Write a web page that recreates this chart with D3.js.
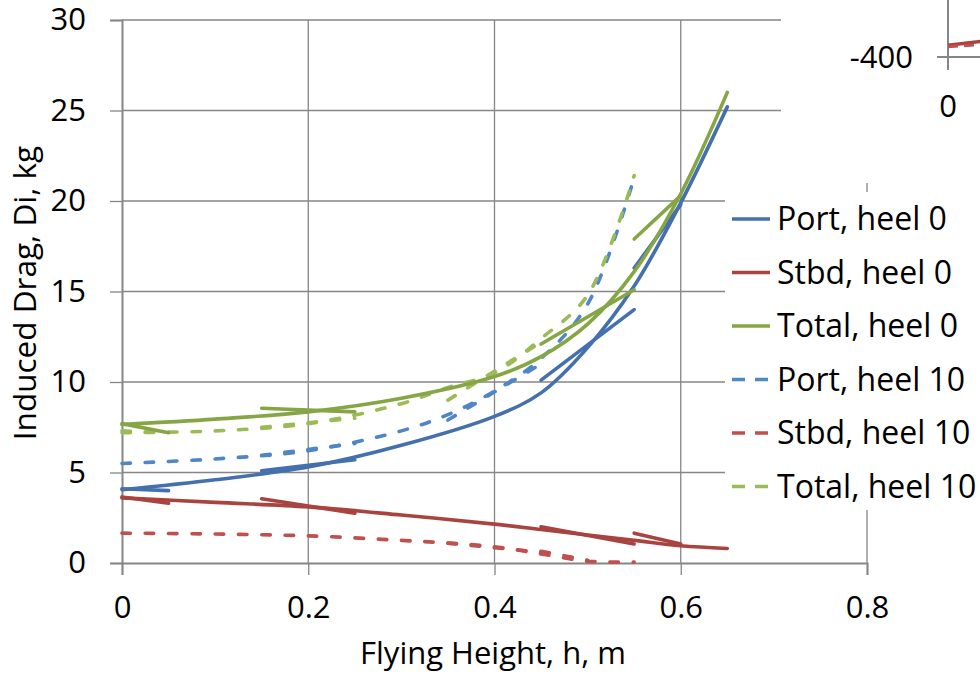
<!DOCTYPE html>
<html>
<head>
<meta charset="utf-8">
<script src="https://cdn.jsdelivr.net/npm/d3@7.9.0/dist/d3.min.js"></script>
<style>
  body { margin: 0; background: #fff; }
  svg text { font-family: "Open Sans", "Liberation Sans", sans-serif; fill: #000; }
</style>
</head>
<body>
<svg id="chart" width="980" height="674"></svg>
<script>
// flying heights used by the fitted curves
const hHeel0 = [0, 0.1, 0.2, 0.3, 0.4, 0.45, 0.5, 0.55, 0.6, 0.65];
const hHeel10 = [0, 0.1, 0.2, 0.3, 0.35, 0.4, 0.45, 0.5, 0.55];

// induced drag, kg
const portHeel0 = [4.05, 4.6, 5.3, 6.5, 8.1, 9.4, 11.9, 15.3, 19.9, 25.2];
const stbdHeel0 = [3.6, 3.35, 3.1, 2.65, 2.15, 1.85, 1.55, 1.25, 0.95, 0.8];
const totalHeel0 = [7.65, 7.95, 8.35, 9.1, 10.3, 11.4, 13.2, 16.1, 20.4, 26.0];
const portHeel10 = [5.5, 5.75, 6.2, 7.3, 8.2, 9.5, 11.3, 14.3, 21.3];
const stbdHeel10 = [1.65, 1.6, 1.5, 1.25, 1.1, 0.9, 0.5, 0.1, 0.05];
const totalHeel10 = [7.2, 7.3, 7.7, 8.8, 9.7, 10.5, 12.4, 14.8, 21.4];

// short straight pieces drawn on top of each curve [[h, D], [h, D]]
const portHeel0Seg = [[[0, 4.1], [0.05, 4.0]], [[0.15, 5.1], [0.25, 5.7]], [[0.45, 10.1], [0.55, 14.0]], [[0.55, 16.3], [0.6, 19.8]]];
const stbdHeel0Seg = [[[0, 3.65], [0.05, 3.3]], [[0.15, 3.55], [0.25, 2.75]], [[0.45, 2.0], [0.55, 1.05]], [[0.55, 1.65], [0.6, 1.05]]];
const totalHeel0Seg = [[[0, 7.7], [0.05, 7.2]], [[0.15, 8.55], [0.25, 8.35]], [[0.45, 12.1], [0.55, 15.1]], [[0.55, 17.9], [0.6, 20.3]]];
const portHeel10Seg = [[[0.15, 5.95], [0.25, 6.6]], [[0.35, 7.9], [0.45, 11.0]]];
const stbdHeel10Seg = [[[0.35, 1.1], [0.45, 0.6]], [[0.45, 0.65], [0.5, 0.15]]];
const totalHeel10Seg = [[[0, 7.3], [0.05, 7.2]], [[0.15, 7.5], [0.25, 8.0]], [[0.35, 9.0], [0.45, 12.2]]];

const xTicks = [0, 0.2, 0.4, 0.6, 0.8];
const yTicks = [0, 5, 10, 15, 20, 25, 30];

const seriesNames = ["Port, heel 0", "Stbd, heel 0", "Total, heel 0", "Port, heel 10", "Stbd, heel 10", "Total, heel 10"];

// bit of the neighbouring chart that overlaps the top right corner
const insetH = [0, 0.04];
const insetStbd0 = [-378, -370];
const insetStbd10 = [-381, -376];

const svg = d3.select("#chart");
const x = d3.scaleLinear().domain([0, 0.8]).range([122, 867]);
const y = d3.scaleLinear().domain([0, 30]).range([563, 20]);
const grey = "#868686";
const fs = 31;

// gridlines
svg.append("g").selectAll("line").data(yTicks.slice(1)).join("line")
  .attr("x1", 122).attr("x2", 867)
  .attr("y1", d => y(d)).attr("y2", d => y(d))
  .attr("stroke", grey).attr("stroke-width", 1.3);
svg.append("g").selectAll("line").data(xTicks.slice(1)).join("line")
  .attr("x1", d => x(d)).attr("x2", d => x(d))
  .attr("y1", 20).attr("y2", 563)
  .attr("stroke", grey).attr("stroke-width", 1.3);

// axes
const yAxis = svg.append("g").attr("transform", "translate(122,0)")
  .call(d3.axisLeft(y).tickValues(yTicks).tickSize(12).tickPadding(24));
const xAxis = svg.append("g").attr("transform", "translate(0,563)")
  .call(d3.axisBottom(x).tickValues(xTicks).tickSize(12).tickPadding(21)
    .tickFormat(d => d === 0 ? "0" : d3.format(".1f")(d)));
[yAxis, xAxis].forEach(g => {
  g.select(".domain").attr("stroke", grey).attr("stroke-width", 2);
  g.selectAll(".tick line").attr("stroke", grey).attr("stroke-width", 1.3);
  g.selectAll(".tick text").attr("font-size", fs).attr("font-family", "Open Sans");
});

// curves
const curve = d3.line().x(d => x(d[0])).y(d => y(d[1])).curve(d3.curveCatmullRom.alpha(0.5));
const straight = d3.line().x(d => x(d[0])).y(d => y(d[1]));

const styles = [
  { color: "#4470ad", dash: null },
  { color: "#a9433f", dash: null },
  { color: "#86a644", dash: null },
  { color: "#4f86c6", dash: "8.5,14.8" },
  { color: "#c0504d", dash: "8.5,14.8" },
  { color: "#9bbb59", dash: "8.5,14.8" }
];
const series = [
  { h: hHeel0, v: portHeel0, seg: portHeel0Seg },
  { h: hHeel0, v: stbdHeel0, seg: stbdHeel0Seg },
  { h: hHeel0, v: totalHeel0, seg: totalHeel0Seg },
  { h: hHeel10, v: portHeel10, seg: portHeel10Seg },
  { h: hHeel10, v: stbdHeel10, seg: stbdHeel10Seg },
  { h: hHeel10, v: totalHeel10, seg: totalHeel10Seg }
];

const plot = svg.append("g");
// draw heel 10 first so solid lines sit on top
[3, 4, 5, 0, 1, 2].forEach(i => {
  const s = series[i], st = styles[i];
  const pts = s.h.map((h, j) => [h, s.v[j]]);
  const draw = (d, gen) => plot.append("path")
    .attr("d", gen(d))
    .attr("fill", "none")
    .attr("stroke", st.color)
    .attr("stroke-width", 3.6)
    .attr("stroke-linecap", "round")
    .attr("stroke-dasharray", st.dash);
  draw(pts, curve);
  s.seg.forEach(seg => draw(seg, straight));
});

// inset chart fragment (top right)
svg.append("rect").attr("x", 781).attr("y", 0).attr("width", 199).attr("height", 183).attr("fill", "#fff");
const ix = d3.scaleLinear().domain([0, 0.1]).range([948, 1040]);
const iy = d3.scaleLinear().domain([-400, 0]).range([57, -157]);
svg.append("line").attr("x1", ix(0)).attr("x2", ix(0)).attr("y1", 0).attr("y2", 70)
  .attr("stroke", grey).attr("stroke-width", 2);
svg.append("line").attr("x1", 937).attr("x2", 980).attr("y1", iy(-400)).attr("y2", iy(-400))
  .attr("stroke", grey).attr("stroke-width", 2);
svg.append("text").attr("x", 913).attr("y", iy(-400) + 11).attr("text-anchor", "end")
  .attr("font-size", fs).text("-400");
svg.append("text").attr("x", ix(0)).attr("y", 117).attr("text-anchor", "middle")
  .attr("font-size", fs).text("0");
const insetLine = d3.line().x((d, j) => ix(insetH[j])).y(d => iy(d));
svg.append("path").attr("d", insetLine(insetStbd0)).attr("fill", "none")
  .attr("stroke", "#a9433f").attr("stroke-width", 3.6);
svg.append("path").attr("d", insetLine(insetStbd10)).attr("fill", "none")
  .attr("stroke", "#c0504d").attr("stroke-width", 3).attr("stroke-dasharray", "10,6");

// legend
svg.append("rect").attr("x", 725).attr("y", 192).attr("width", 255).attr("height", 318).attr("fill", "#fff");
const legend = svg.append("g");
seriesNames.forEach((name, i) => {
  const cy = 219 + i * 53.5;
  legend.append("line")
    .attr("x1", 732).attr("x2", 770).attr("y1", cy).attr("y2", cy)
    .attr("stroke", styles[i].color).attr("stroke-width", 3.6)
    .attr("stroke-dasharray", styles[i].dash ? "13,10" : null);
  legend.append("text").attr("x", 777).attr("y", cy + 11)
    .attr("font-size", 32).text(name);
});

// axis titles
svg.append("text").attr("x", 493).attr("y", 664).attr("text-anchor", "middle")
  .attr("font-size", 31).text("Flying Height, h, m");
svg.append("text").attr("transform", "translate(36,293) rotate(-90)").attr("text-anchor", "middle")
  .attr("font-size", 31.5).text("Induced Drag, Di, kg");
</script>
</body>
</html>
